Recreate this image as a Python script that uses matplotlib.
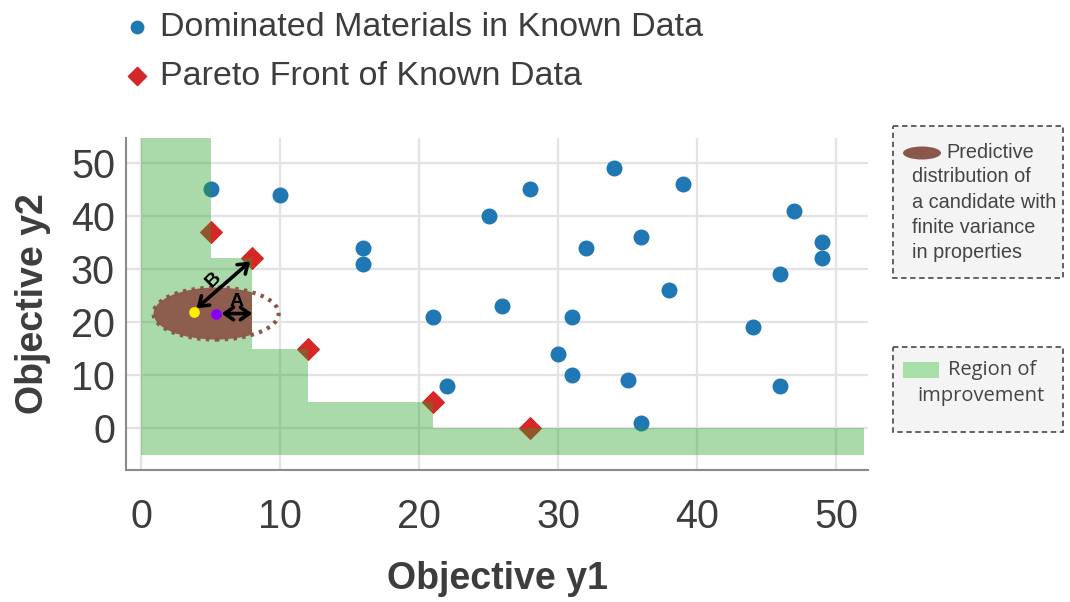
import matplotlib
matplotlib.use("Agg")
import matplotlib.pyplot as plt
from matplotlib.patches import Ellipse, Rectangle, Polygon
import numpy as np

plt.rcParams['font.family'] = ['Liberation Sans', 'DejaVu Sans']

# ---- data ----
dominated_x = [5, 10, 16, 16, 21, 22, 25, 26, 28, 30, 31, 31, 32, 34, 35, 36, 36, 38, 39, 44, 46, 46, 47, 49, 49]
dominated_y = [45, 44, 34, 31, 21, 8, 40, 23, 45, 14, 21, 10, 34, 49, 9, 36, 1, 26, 46, 19, 29, 8, 41, 35, 32]
pareto_x = [5, 8, 12, 21, 28]
pareto_y = [37, 32, 15, 5, 0]
region_x_end = 52
region_y_top = 55
region_y_bottom = -5
cand_mean = (5.4, 21.6)
cand_width = 9.0
cand_height = 9.8
closest_point = (3.8, 21.8)
arrow_B = ((4.0, 22.6), (7.85, 31.4))
arrow_A = ((5.8, 21.6), (8.0, 21.6))
xticks = [0, 10, 20, 30, 40, 50]
yticks = [0, 10, 20, 30, 40, 50]

BLUE = '#1f77b4'
RED = '#d62728'
BROWN = '#8c564b'
GREEN = '#2ca02c'

fig = plt.figure(figsize=(10.7, 6.02), dpi=100)
ax = fig.add_axes([126/1070, 1-470/602, (868-126)/1070, (470-138)/602])
ax.set_xlim(-1.08, 52.3)
ax.set_ylim(-7.9, 54.7)

ax.grid(True, color='#e3e3e3', lw=1.6, zorder=0)
ax.set_axisbelow(True)
for s in ['top', 'right']:
    ax.spines[s].set_visible(False)
for s in ['left', 'bottom']:
    ax.spines[s].set_color('#8a8a8a')
    ax.spines[s].set_linewidth(1.5)

sc1 = ax.scatter(dominated_x, dominated_y, s=110, color=BLUE, zorder=3,
                 label='Dominated Materials in Known Data')
sc2 = ax.scatter(pareto_x, pareto_y, s=120, marker='D', color=RED, zorder=3,
                 label='Pareto Front of Known Data')

# region of improvement (step region built from the Pareto front)
rx = [0] + pareto_x[:-1] + [region_x_end]
ry = [region_y_top] + pareto_y[1:] + [pareto_y[-1]]
ax.fill_between(rx, region_y_bottom, ry, step='post', color=GREEN, alpha=0.4,
                lw=0, zorder=4)

# polygon for clipping the candidate distribution
poly_pts = [(rx[0], region_y_bottom)]
for i in range(len(rx) - 1):
    poly_pts.append((rx[i], ry[i]))
    poly_pts.append((rx[i + 1], ry[i]))
poly_pts.append((rx[-1], region_y_bottom))
clip_poly = Polygon(poly_pts, closed=True, transform=ax.transData, fill=False, lw=0)
ax.add_patch(clip_poly)

ell_fill = Ellipse(cand_mean, cand_width, cand_height, facecolor='#8d5d4e', edgecolor='none',
                   zorder=5)
ax.add_patch(ell_fill)
ell_fill.set_clip_path(clip_poly)
ell_edge = Ellipse(cand_mean, cand_width, cand_height, facecolor='none', edgecolor=BROWN,
                   lw=3, linestyle=(0, (0.8, 1.3)), zorder=5)
ax.add_patch(ell_edge)

ax.scatter([closest_point[0]], [closest_point[1]], s=45, color='#ffee00', zorder=7)
ax.scatter([cand_mean[0]], [cand_mean[1]], s=45, color='#8a00ff', zorder=7)

for (p0, p1) in [arrow_B, arrow_A]:
    ax.annotate('', xy=p1, xytext=p0,
                arrowprops=dict(arrowstyle='<->,head_length=0.45,head_width=0.32',
                                color='black', lw=2.6,
                                mutation_scale=14, shrinkA=0, shrinkB=0), zorder=8)
ax.text(5.2, 27.9, 'B', fontsize=14, fontweight='bold', rotation=45,
        ha='center', va='center', zorder=8)
ax.text(6.9, 23.8, 'A', fontsize=14, fontweight='bold', ha='center', va='center', zorder=8)

ax.set_xticks(xticks)
ax.set_yticks(yticks)
ax.tick_params(axis='both', length=0, labelsize=28.5, labelcolor='#3d3d3d')
ax.tick_params(axis='x', pad=20)
ax.tick_params(axis='y', pad=8)
ax.set_xlabel('Objective y1', fontsize=27, fontweight='bold', color='#3d3d3d', labelpad=18)
ax.set_ylabel('Objective y2', fontsize=27, fontweight='bold', color='#3d3d3d', labelpad=14)

fig.legend(handles=[sc1, sc2], loc='upper left', bbox_to_anchor=(123/1070, 1 - 12/602),
           frameon=False, fontsize=24.5, labelcolor='#3d3d3d', markerscale=0.85,
           handletextpad=0.3, labelspacing=0.53, handlelength=0.8,
           borderpad=0, borderaxespad=0)

# right-side annotation boxes in pixel coordinates
ov = fig.add_axes([0, 0, 1, 1], facecolor='none')
ov.set_xlim(0, 1070)
ov.set_ylim(602, 0)
ov.axis('off')
ov.add_patch(Rectangle((893, 126), 170, 152, facecolor='#f4f4f4', edgecolor='#555555',
                       lw=1.3, linestyle=(0, (3, 2))))
ov.add_patch(Ellipse((922, 153), 38, 13, facecolor=BROWN, edgecolor='none'))
ov.text(946, 152, 'Predictive', fontsize=14.3, color='#444444', va='center', ha='left')
lines = ['distribution of', 'a candidate with', 'finite variance', 'in properties']
for i, t in enumerate(lines):
    ov.text(912, 177 + i * 25.3, t, fontsize=14.3, color='#444444', va='center', ha='left')

ov.add_patch(Rectangle((893, 347), 170, 85, facecolor='#f4f4f4', edgecolor='#555555',
                       lw=1.3, linestyle=(0, (3, 2))))
ov.add_patch(Rectangle((903, 362), 36, 16, facecolor='#a8dfa8', edgecolor='none'))
ov.text(948, 370, 'Region of', fontsize=14.5, color='#444444', va='center', ha='left',
        family=['Open Sans', 'DejaVu Sans'])
ov.text(917, 396, 'improvement', fontsize=14.5, color='#444444', va='center', ha='left',
        family=['Open Sans', 'DejaVu Sans'])

fig.savefig('out.png', dpi=100)
